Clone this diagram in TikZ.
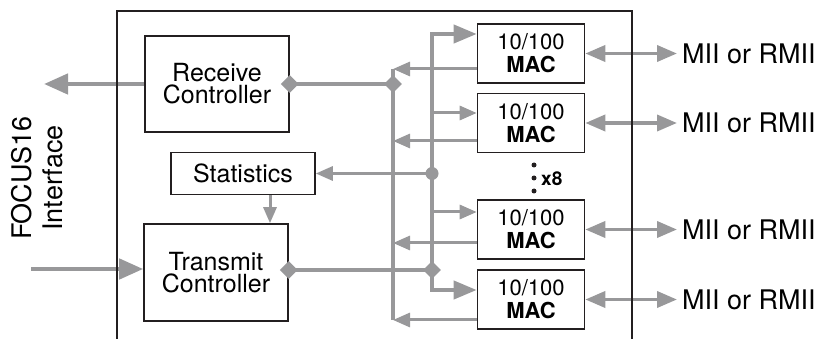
\documentclass[tikz,border=0pt]{standalone}
\usepackage{fontspec}
\setmainfont{TeX Gyre Heros}
\usetikzlibrary{positioning,arrows.meta,shapes.geometric}
\definecolor{busgray}{RGB}{152,152,154}
\definecolor{framegray}{RGB}{35,31,32}

\begin{document}
\begin{tikzpicture}[x=1pt,y=-1pt,
		blk/.style={draw=framegray,line width=1.6pt,inner sep=0pt,align=center,
			minimum width=144pt,font=\fontsize{25}{22}\selectfont},
		macbox/.style={draw=framegray,line width=1.6pt,inner sep=0pt,align=center,
			minimum width=107pt,minimum height=59pt,font=\fontsize{22}{23}\selectfont},
		miilbl/.style={anchor=west,inner xsep=5pt,font=\fontsize{27}{29}\selectfont},
		junc/.style={diamond,aspect=1,fill=busgray,inner sep=0pt,minimum size=18pt},
		dotjunc/.style={circle,fill=busgray,inner sep=0pt,minimum size=13pt},
		bus/.style={busgray,line width=4pt},
		bigarr/.style={busgray,line width=4.5pt,-{Triangle[length=24pt,width=20pt]}},
		brarr/.style={busgray,line width=4pt,-{Triangle[length=23pt,width=18pt]}},
		thinarr/.style={busgray,line width=3pt,-{Triangle[length=17pt,width=14pt]}},
		miiarr/.style={busgray,line width=3.7pt,{Triangle[length=20pt,width=16pt]}-{Triangle[length=20pt,width=16pt]}}]
	\useasboundingbox (0,0) rectangle (820,339);
	% controllers
	\node[blk,minimum height=96pt] (rx) at (217,84) {Receive\\Controller};
	\node[blk,minimum height=42pt] (stats) at (243,173.5) {Statistics};
	\node[blk,minimum height=97pt] (tx) at (216,272.5) {Transmit\\Controller};
	% FOCUS16 side
	\node[rotate=90,align=center,font=\fontsize{27}{31}\selectfont] (focus) at (37,178) {FOCUS16\\Interface};
	\coordinate (focusout) at (44,84);
	\coordinate (focusin) at (31,269);
	% MACs and line side
	\foreach \i/\y in {1/53.5,2/123,3/229.5,4/299.5}{
		\node[macbox] (mac\i) at (531,\y) {10/100\\\textbf{MAC}};
		\node[miilbl] (mii\i) at (677,\y) {MII or RMII};
		\draw[miiarr] (mac\i.east) -- (mii\i.west);
	}
	% x8
	\foreach \d in {165,178,191}{
		\fill[framegray] (534,\d) circle (2.5pt);
	}
	\node[font=\bfseries\fontsize{19}{21}\selectfont,anchor=west,inner sep=0pt] (count) at (541,179) {x8};
	% bus points
	\coordinate (rxj) at (393,84);
	\coordinate (txj) at (432,270);
	\coordinate (txtop) at (432,34);
	\coordinate (txbot) at (432,290);
	% receive path
	\draw[bigarr] (rx.west) -- (focusout);
	\draw[bus] (rx.east) -- (rxj);
	\foreach \i/\y in {1/69,2/141,3/243,4/320}{
		\coordinate (rxb\i) at (393,\y);
		\draw[thinarr] (mac\i.west |- rxb\i) -- (rxb\i);
	}
	\draw[bus] (rxb1) -- (rxb4);
	% transmit path
	\draw[bigarr] (focusin) -- (tx.west |- focusin);
	\draw[bus] (tx.east |- txj) -- (txj);
	\draw[brarr] (txj) |- (mac1.west |- txtop);
	\draw[brarr] (txj) |- (mac4.west |- txbot);
	\foreach \i/\y in {2/113,3/212}{
		\coordinate (txb\i) at (432,\y);
		\draw[thinarr] (txb\i) -- (mac\i.west |- txb\i);
	}
	% statistics
	\node[dotjunc] (sdot) at (432,173.5) {};
	\draw[thinarr] (sdot.center) -- (stats.east);
	\draw[busgray,line width=3pt,-{Triangle[length=16pt,width=13pt]}] ([xshift=27pt]stats.south) -- ([xshift=27pt]stats.south |- tx.north);
	% junctions
	\node[junc] (jrx) at (rx.east) {};
	\node[junc] (jrxbus) at (rxj) {};
	\node[junc] (jtx) at (tx.east |- txj) {};
	\node[junc] (jtxbus) at (txj) {};
	% chip outline
	\draw[framegray,line width=1.6pt] (117,339) -- (117,11) -- (632,11) -- (632,339);
\end{tikzpicture}
\end{document}
